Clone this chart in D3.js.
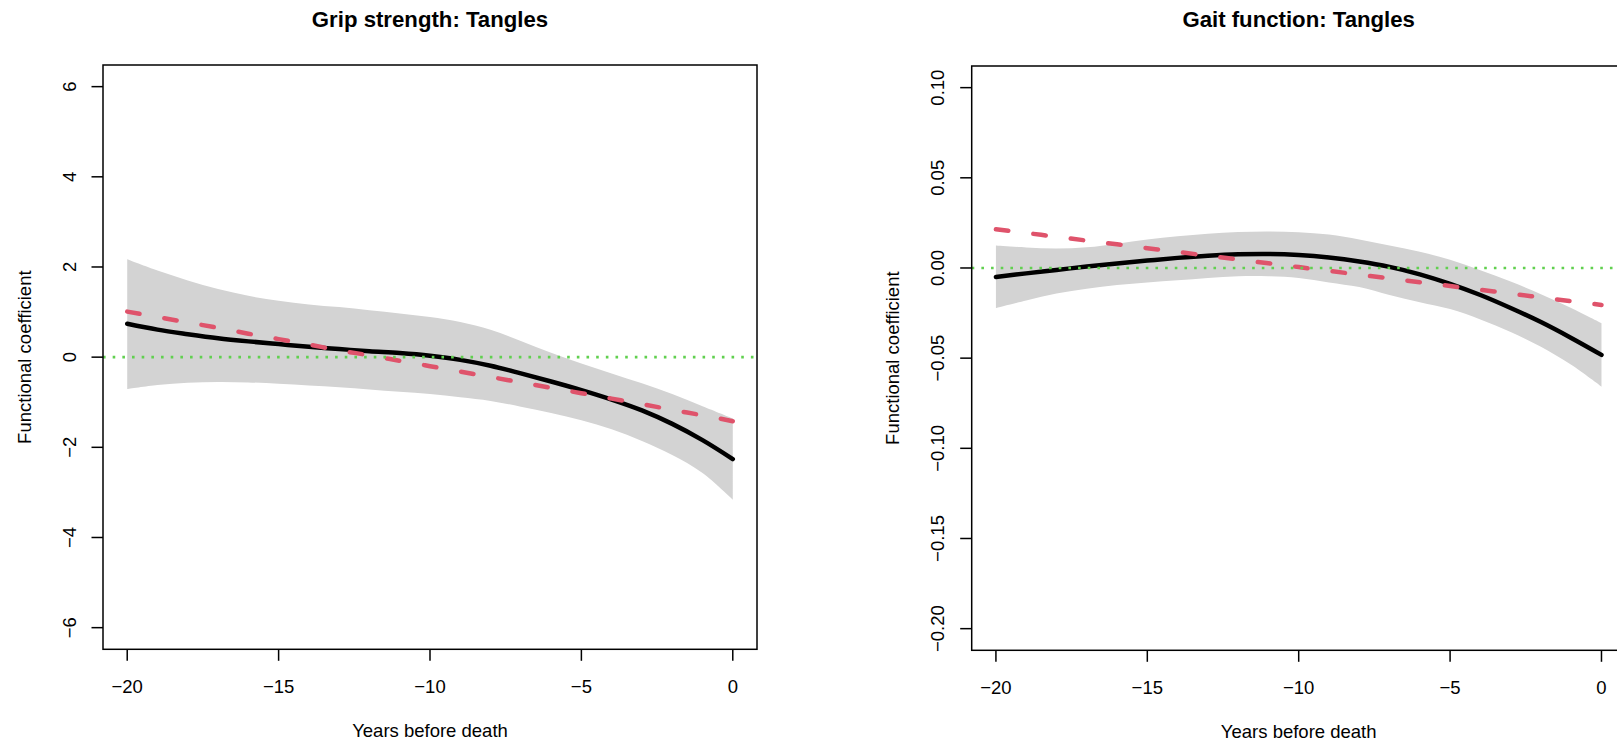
<!DOCTYPE html>
<html>
<head>
<meta charset="utf-8">
<script src="https://cdn.jsdelivr.net/npm/d3@7"></script>
<style>
  html, body { margin: 0; padding: 0; background: #fff; overflow: hidden; }
  text { font-family: "Liberation Sans", Arial, sans-serif; fill: #000; }
</style>
</head>
<body>
<svg id="chart" width="1617" height="742"></svg>
<script>
// ---------- data ----------
const years = [-20,-19,-18,-17,-16,-15,-14,-13,-12,-11,-10,-9,-8,-7,-6,-5,-4,-3,-2,-1,0];

// Panel 1: Grip strength: Tangles
const gripFit   = [0.74,0.61,0.51,0.42,0.35,0.29,0.23,0.18,0.13,0.09,0.03,-0.06,-0.19,-0.36,-0.54,-0.73,-0.94,-1.18,-1.48,-1.84,-2.26];
const gripLin   = [1.01,0.89,0.77,0.65,0.52,0.40,0.28,0.15,0.04,-0.08,-0.20,-0.32,-0.44,-0.56,-0.68,-0.80,-0.92,-1.04,-1.17,-1.29,-1.42];
const gripUpper = [2.17,1.92,1.70,1.51,1.36,1.25,1.17,1.11,1.04,0.97,0.89,0.78,0.61,0.36,0.10,-0.14,-0.36,-0.58,-0.82,-1.09,-1.36];
const gripLower = [-0.71,-0.62,-0.57,-0.55,-0.56,-0.59,-0.63,-0.67,-0.72,-0.77,-0.82,-0.89,-0.97,-1.10,-1.24,-1.40,-1.60,-1.86,-2.17,-2.57,-3.16];

// Panel 2: Gait function: Tangles
const gaitFit   = [-0.0050,-0.0030,-0.0011,0.0008,0.0025,0.0041,0.0056,0.0068,0.0076,0.0078,0.0072,0.0058,0.0036,0.0006,-0.0035,-0.0088,-0.0150,-0.0222,-0.0300,-0.0388,-0.0482];
const gaitLin   = [0.0215,0.0194,0.0173,0.0152,0.0131,0.0110,0.0089,0.0068,0.0047,0.0026,0.0005,-0.0016,-0.0037,-0.0058,-0.0079,-0.0100,-0.0121,-0.0142,-0.0163,-0.0184,-0.0205];
const gaitUpper = [0.0124,0.0114,0.0108,0.0115,0.0135,0.0158,0.0176,0.0190,0.0199,0.0202,0.0198,0.0185,0.0158,0.0125,0.0090,0.0045,-0.0012,-0.0075,-0.0145,-0.0222,-0.0306];
const gaitLower = [-0.0222,-0.0180,-0.0142,-0.0115,-0.0095,-0.0080,-0.0068,-0.0055,-0.0046,-0.0046,-0.0055,-0.0080,-0.0106,-0.0150,-0.0190,-0.0228,-0.0285,-0.0355,-0.0437,-0.0537,-0.0658];

const xTicks = [-20,-15,-10,-5,0];
const gripYTicks = [-6,-4,-2,0,2,4,6];
const gaitYTicks = [-0.20,-0.15,-0.10,-0.05,0.00,0.05,0.10];

const titles = ["Grip strength: Tangles", "Gait function: Tangles"];
const xLabel = "Years before death";
const yLabel = "Functional coefficient";

// ---------- drawing ----------
const svg = d3.select("#chart");
const FONT = 18.5;
const minus = s => s.replace(/-/g, "\u2212");
const curve = d3.curveCatmullRom.alpha(0.5);

const panels = [
  { title: titles[0], fit: gripFit, lin: gripLin, up: gripUpper, lo: gripLower,
    yTicks: gripYTicks, ydom: [-6.48, 6.48], fmt: d3.format("d"),
    left: 103, right: 757, top: 65, bottom: 649.3 },
  { title: titles[1], fit: gaitFit, lin: gaitLin, up: gaitUpper, lo: gaitLower,
    yTicks: gaitYTicks, ydom: [-0.212, 0.112], fmt: d3.format(".2f"),
    left: 971.7, right: 1625.7, top: 66, bottom: 650.3 }
];

panels.forEach((p, i) => {
  const x = d3.scaleLinear().domain([-20.8, 0.8]).range([p.left, p.right]);
  const y = d3.scaleLinear().domain(p.ydom).range([p.bottom, p.top]);
  const g = svg.append("g");

  const clipId = "clip" + i;
  svg.append("defs").append("clipPath").attr("id", clipId)
    .append("rect").attr("x", p.left).attr("y", p.top)
    .attr("width", p.right - p.left).attr("height", p.bottom - p.top);

  const plot = g.append("g").attr("clip-path", `url(#${clipId})`);
  const pts = years.map((yr, k) => ({ x: yr, fit: p.fit[k], lin: p.lin[k], up: p.up[k], lo: p.lo[k] }));

  // confidence band
  plot.append("path")
    .attr("d", d3.area().x(d => x(d.x)).y0(d => y(d.lo)).y1(d => y(d.up)).curve(curve)(pts))
    .attr("fill", "#D3D3D3").attr("stroke", "none");

  // fitted curve
  plot.append("path")
    .attr("d", d3.line().x(d => x(d.x)).y(d => y(d.fit)).curve(curve)(pts))
    .attr("fill", "none").attr("stroke", "#000").attr("stroke-width", 4.5)
    .attr("stroke-linecap", "round").attr("stroke-linejoin", "round");

  // linear (dashed)
  plot.append("path")
    .attr("d", d3.line().x(d => x(d.x)).y(d => y(d.lin)).curve(curve)(pts))
    .attr("fill", "none").attr("stroke", "#DF536B").attr("stroke-width", 4.5)
    .attr("stroke-dasharray", "12.5,25.2")
    .attr("stroke-linecap", "round").attr("stroke-linejoin", "round");

  // zero reference line
  plot.append("line")
    .attr("x1", p.left).attr("x2", p.right).attr("y1", y(0)).attr("y2", y(0))
    .attr("stroke", "#61D04F").attr("stroke-width", 2.6)
    .attr("stroke-dasharray", "2.6,7.07");

  // box
  g.append("rect")
    .attr("x", p.left).attr("y", p.top)
    .attr("width", p.right - p.left).attr("height", p.bottom - p.top)
    .attr("fill", "none").attr("stroke", "#000").attr("stroke-width", 1.5);

  // x axis ticks
  const xa = g.append("g");
  xTicks.forEach(t => {
    xa.append("line").attr("x1", x(t)).attr("x2", x(t))
      .attr("y1", p.bottom).attr("y2", p.bottom + 11.5)
      .attr("stroke", "#000").attr("stroke-width", 1.5);
    xa.append("text").attr("x", x(t)).attr("y", p.bottom + 43.5)
      .attr("text-anchor", "middle").attr("font-size", FONT)
      .text(minus(String(t)));
  });

  // y axis ticks
  const ya = g.append("g");
  p.yTicks.forEach(t => {
    ya.append("line").attr("x1", p.left).attr("x2", p.left - 11.5)
      .attr("y1", y(t)).attr("y2", y(t))
      .attr("stroke", "#000").attr("stroke-width", 1.5);
    const lx = p.left - 34, ly = y(t);
    ya.append("text")
      .attr("transform", `translate(${lx},${ly}) rotate(-90)`)
      .attr("text-anchor", "middle").attr("dy", "0.36em")
      .attr("font-size", FONT)
      .text(minus(p.fmt(t)));
  });

  const cx = (p.left + p.right) / 2;
  // title
  g.append("text").attr("x", cx).attr("y", 26.7)
    .attr("text-anchor", "middle").attr("font-size", 22.2).attr("font-weight", "bold")
    .text(p.title);
  // x label
  g.append("text").attr("x", cx).attr("y", p.bottom + 88)
    .attr("text-anchor", "middle").attr("font-size", FONT)
    .text(xLabel);
  // y label
  const ycy = (p.top + p.bottom) / 2;
  g.append("text")
    .attr("transform", `translate(${p.left - 79},${ycy}) rotate(-90)`)
    .attr("text-anchor", "middle").attr("dy", "0.36em")
    .attr("font-size", FONT)
    .text(yLabel);
});
</script>
</body>
</html>
